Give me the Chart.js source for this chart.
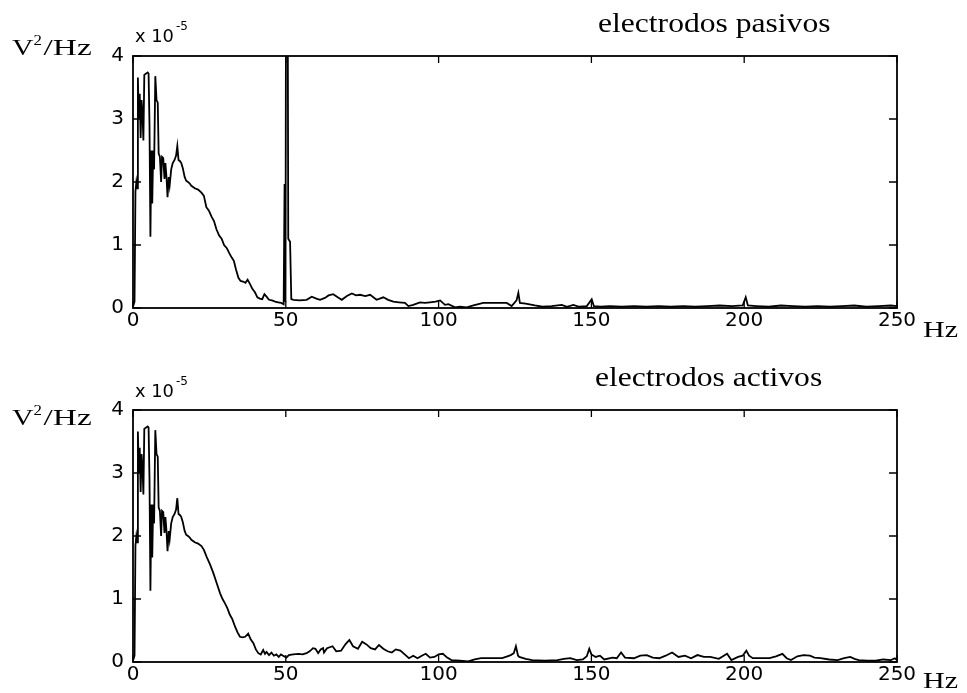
<!DOCTYPE html>
<html>
<head>
<meta charset="utf-8">
<script src="https://cdn.jsdelivr.net/npm/chart.js@4.4.1/dist/chart.umd.min.js"></script>
<style>
  html, body { margin: 0; padding: 0; background: #fff; }
  #wrap { position: relative; width: 967px; height: 693px; }
  canvas { position: absolute; left: 0; }
  #c1 { top: 0; }
  #c2 { top: 350px; }
</style>
</head>
<body>
<div id="wrap">
  <canvas id="c1" width="967" height="350"></canvas>
  <canvas id="c2" width="967" height="343"></canvas>
</div>
<script>
// densidad espectral de potencia, unidades de 1e-5 V^2/Hz
const xTicks = [0, 50, 100, 150, 200, 250];
const yTicks = [0, 1, 2, 3, 4];

// electrodos pasivos
const freqPasivos = [
  0, 0.5, 0.8, 1.1, 1.4, 1.6, 1.9, 2.2, 2.5, 2.8, 3.1, 3.4, 3.7, 4.2, 4.8, 5.1, 5.4, 5.7, 6.0, 6.3,
  6.6, 6.9, 7.3, 7.7, 8.1, 8.4, 8.8, 9.2, 9.5, 9.9, 10.3, 10.6, 11.0, 11.3, 11.7, 12.0, 12.5, 13.0, 13.6, 14.1,
  14.5, 14.9, 15.4, 15.8, 16.3, 16.9, 17.4, 18.0, 18.5, 19.1, 20.2, 21.3, 22.4, 23.2, 24.0, 24.8, 25.7, 26.5, 27.3, 28.2,
  29.0, 29.8, 30.7, 31.5, 32.3, 33.0, 33.7, 34.5, 35.2, 36.0, 36.8, 37.5, 38.3, 39.1, 39.9, 40.7, 41.5, 42.3, 43.0, 43.7,
  44.5, 45.5, 46.5, 47.5, 48.5, 49.3, 49.6, 49.9, 50.3, 50.8, 51.4, 51.8, 52.5, 54.5, 56.8, 58.5, 60.0, 61.2, 62.8, 64.0,
  65.5, 67.0, 68.3, 70.0, 71.6, 73.0, 74.3, 76.0, 77.6, 79.7, 81.9, 83.5, 85.2, 87.0, 89.0, 90.1, 91.7, 93.9, 95.5, 97.2,
  99.0, 100.5, 102.1, 103.2, 105.4, 107.0, 109.2, 111.4, 114.6, 118.0, 122.3, 123.9, 125.5, 126.1, 126.6, 128.5, 131.5, 134.0, 137.0, 140.3,
  142.0, 144.1, 146.0, 148.5, 150.1, 150.8, 153, 156, 160, 164, 168, 172, 176, 180, 184, 188, 192, 196, 199.5, 200.5,
  201.2, 204, 208, 212, 216, 220, 224, 228, 232, 236, 240, 244, 248, 250
];
const valPasivos = [
  0.02, 0.1, 1.85, 2.0, 1.9, 3.66, 3.0, 3.4, 2.7, 3.3, 3.1, 2.66, 3.7, 3.72, 3.74, 3.72, 2.9, 1.13, 2.5, 1.66,
  2.5, 2.2, 3.68, 3.3, 3.26, 2.45, 2.4, 2.0, 2.4, 2.38, 2.05, 2.3, 2.05, 1.76, 2.08, 1.95, 2.2, 2.3, 2.35, 2.42,
  2.57, 2.35, 2.33, 2.3, 2.22, 2.08, 2.02, 2.0, 1.98, 1.94, 1.9, 1.88, 1.83, 1.78, 1.6, 1.55, 1.45, 1.38, 1.25, 1.15,
  1.1, 1.0, 0.95, 0.87, 0.8, 0.75, 0.61, 0.48, 0.43, 0.42, 0.40, 0.45, 0.38, 0.3, 0.25, 0.17, 0.15, 0.14, 0.22, 0.18,
  0.13, 0.12, 0.1, 0.09, 0.08, 0.06, 1.97, 0.1, 12, 1.1, 1.05, 0.14, 0.13, 0.12, 0.13, 0.18, 0.15, 0.13, 0.16, 0.2,
  0.22, 0.17, 0.13, 0.19, 0.23, 0.2, 0.21, 0.19, 0.21, 0.13, 0.17, 0.13, 0.1, 0.09, 0.08, 0.03, 0.05, 0.09, 0.08, 0.09,
  0.1, 0.12, 0.05, 0.06, 0.01, 0.02, 0.01, 0.04, 0.08, 0.08, 0.08, 0.03, 0.12, 0.24, 0.08, 0.07, 0.04, 0.02, 0.03, 0.05,
  0.02, 0.05, 0.02, 0.03, 0.14, 0.03, 0.02, 0.03, 0.02, 0.03, 0.02, 0.03, 0.02, 0.03, 0.02, 0.03, 0.04, 0.03, 0.04, 0.17,
  0.04, 0.03, 0.02, 0.04, 0.03, 0.02, 0.03, 0.02, 0.03, 0.04, 0.02, 0.03, 0.04, 0.03
];

// electrodos activos
const freqActivos = [
  0, 0.5, 0.8, 1.1, 1.4, 1.6, 1.9, 2.2, 2.5, 2.8, 3.1, 3.4, 3.7, 4.2, 4.8, 5.1, 5.4, 5.7, 6.0, 6.3,
  6.6, 6.9, 7.3, 7.7, 8.1, 8.4, 8.8, 9.2, 9.5, 9.9, 10.3, 10.6, 11.0, 11.3, 11.7, 12.0, 12.5, 13.0, 13.6, 14.1,
  14.5, 14.9, 15.4, 15.8, 16.3, 16.9, 17.4, 18.0, 18.5, 19.1, 20.2, 21.3, 22.4, 23.2, 24.1, 25.2, 26.3, 27.4, 28.5, 29.3,
  30.1, 30.9, 31.7, 32.5, 33.4, 34.2, 35.0, 35.8, 36.7, 37.7, 38.5, 39.4, 40.2, 41.0, 41.8, 42.6, 43.2, 43.7, 44.5, 45.3,
  46.1, 46.9, 47.7, 48.4, 49.1, 50.2, 51.0, 52.4, 54.2, 55.5, 56.8, 57.8, 58.9, 59.7, 60.6, 61.4, 62.2, 62.5, 63.5, 65.3,
  66.5, 68.1, 69.5, 70.8, 72.0, 73.6, 75.0, 76.4, 77.8, 79.2, 80.5, 81.9, 83.3, 84.7, 86.0, 87.5, 88.9, 90.3, 91.7, 93.1,
  94.5, 95.8, 97.2, 98.6, 100.0, 101.4, 102.8, 104.2, 107.0, 109.7, 111.8, 113.9, 117.0, 120.8, 122.5, 123.6, 124.6, 125.3, 126.0, 126.4,
  128.5, 130.6, 134.7, 138.9, 141.0, 143.1, 145.2, 147.2, 148.5, 149.3, 150.0, 151.4, 152.8, 154.2, 156.9, 158.3, 159.7, 161.0, 163.9, 166.0,
  168.1, 170.1, 172.2, 174.3, 176.4, 178.5, 180.6, 182.6, 184.7, 186.8, 188.9, 191.7, 194.4, 195.8, 198.0, 199.5, 200.7, 201.6, 202.8, 205.5,
  208.3, 210.4, 212.5, 213.9, 215.3, 217.4, 219.4, 221.5, 223.0, 225.0, 227.8, 230.6, 232.7, 234.7, 236.1, 237.5, 240.3, 243.0, 245.5, 248.0,
  249.3, 250
];
const valActivos = [
  0.02, 0.1, 1.85, 2.0, 1.9, 3.66, 3.0, 3.4, 2.7, 3.3, 3.1, 2.66, 3.7, 3.72, 3.74, 3.72, 2.9, 1.13, 2.5, 1.66,
  2.5, 2.2, 3.68, 3.3, 3.26, 2.45, 2.4, 2.0, 2.4, 2.38, 2.05, 2.3, 2.05, 1.76, 2.08, 1.95, 2.2, 2.3, 2.35, 2.42,
  2.6, 2.35, 2.33, 2.3, 2.22, 2.08, 2.02, 2.0, 1.98, 1.94, 1.9, 1.88, 1.84, 1.78, 1.67, 1.55, 1.41, 1.25, 1.09, 1.0,
  0.93, 0.85, 0.75, 0.68, 0.56, 0.47, 0.40, 0.39, 0.40, 0.45, 0.36, 0.30, 0.2, 0.14, 0.12, 0.19, 0.13, 0.16, 0.11, 0.15,
  0.1, 0.12, 0.08, 0.12, 0.1, 0.07, 0.11, 0.12, 0.13, 0.12, 0.14, 0.17, 0.22, 0.21, 0.14, 0.2, 0.22, 0.15, 0.22, 0.25,
  0.17, 0.18, 0.28, 0.35, 0.25, 0.21, 0.32, 0.28, 0.22, 0.2, 0.27, 0.21, 0.17, 0.15, 0.2, 0.18, 0.12, 0.06, 0.1, 0.06,
  0.1, 0.13, 0.07, 0.08, 0.12, 0.13, 0.07, 0.03, 0.02, 0.01, 0.04, 0.06, 0.06, 0.06, 0.09, 0.11, 0.14, 0.25, 0.1, 0.08,
  0.05, 0.03, 0.02, 0.03, 0.05, 0.06, 0.03, 0.04, 0.09, 0.21, 0.12, 0.08, 0.1, 0.04, 0.07, 0.06, 0.15, 0.07, 0.06, 0.1,
  0.11, 0.07, 0.06, 0.1, 0.15, 0.08, 0.1, 0.06, 0.11, 0.08, 0.08, 0.05, 0.13, 0.03, 0.08, 0.1, 0.18, 0.1, 0.06, 0.06,
  0.06, 0.09, 0.13, 0.06, 0.03, 0.09, 0.11, 0.1, 0.07, 0.06, 0.04, 0.03, 0.06, 0.08, 0.05, 0.03, 0.02, 0.02, 0.04, 0.03,
  0.06, 0.03
];

const numFont = '"DejaVu Sans", sans-serif';
const serifFont = '"Liberation Serif", "Times New Roman", serif';

// texto estirado en horizontal
function wideText(ctx, text, x, y, font, sx) {
  ctx.save();
  ctx.font = font;
  ctx.translate(x, y);
  ctx.scale(sx, 1);
  ctx.fillText(text, 0, 0);
  const w = ctx.measureText(text).width * sx;
  ctx.restore();
  return w;
}

// marco, marcas hacia dentro y rótulos al estilo MATLAB
function framePlugin(title, titleX, titleY, unitY, expY, hzDy) {
  return {
    id: 'matlabFrame',
    afterDraw(chart) {
      const ctx = chart.ctx;
      const a = chart.chartArea;
      const xs = chart.scales.x, ys = chart.scales.y;
      ctx.save();
      ctx.strokeStyle = '#000';
      ctx.lineWidth = 1.8;
      ctx.strokeRect(a.left, a.top, a.right - a.left, a.bottom - a.top);
      ctx.lineWidth = 1.3;
      ctx.beginPath();
      xTicks.forEach(v => {
        const px = xs.getPixelForValue(v);
        ctx.moveTo(px, a.bottom); ctx.lineTo(px, a.bottom - 7);
        ctx.moveTo(px, a.top); ctx.lineTo(px, a.top + 7);
      });
      yTicks.forEach(v => {
        const py = ys.getPixelForValue(v);
        ctx.moveTo(a.left, py); ctx.lineTo(a.left + 8, py);
        ctx.moveTo(a.right, py); ctx.lineTo(a.right - 8, py);
      });
      ctx.stroke();

      ctx.fillStyle = '#000';
      ctx.textBaseline = 'alphabetic';
      // factor de escala del eje y
      let w = wideText(ctx, 'x 10', 135, expY, '17px ' + numFont, 1.05);
      wideText(ctx, '-5', 135 + w + 2, expY - 12, '12px ' + numFont, 1.0);
      // unidades
      let ux = 12;
      ux += wideText(ctx, 'V', ux, unitY, '23px ' + serifFont, 1.3);
      wideText(ctx, '2', ux, unitY - 10, '14px ' + serifFont, 1.2);
      ux += 10;
      wideText(ctx, '/Hz', ux, unitY, '23px ' + serifFont, 1.45);
      // título
      wideText(ctx, title, titleX, titleY, '27px ' + serifFont, 1.17);
      // Hz junto al 250
      const hx = xs.getPixelForValue(250) + 26;
      wideText(ctx, 'Hz', hx, a.bottom + hzDy, '24px ' + serifFont, 1.25);
      ctx.restore();
    }
  };
}

function makeChart(id, freqs, vals, xHeight, padTop, plugin) {
  const points = freqs.map((f, i) => ({ x: f, y: vals[i] }));
  return new Chart(document.getElementById(id), {
    type: 'line',
    data: {
      datasets: [{
        data: points,
        borderColor: '#000',
        borderWidth: 1.8,
        pointRadius: 0,
        tension: 0,
        fill: false
      }]
    },
    options: {
      responsive: false,
      animation: false,
      layout: { padding: { top: padTop, right: 70, left: 0, bottom: 0 } },
      plugins: { legend: { display: false }, tooltip: { enabled: false } },
      scales: {
        x: {
          type: 'linear', min: 0, max: 250,
          afterFit: s => { s.height = xHeight; },
          afterBuildTicks: s => { s.ticks = xTicks.map(v => ({ value: v })); },
          grid: { display: false, drawTicks: false },
          border: { display: false },
          ticks: { color: '#000', padding: 1, maxRotation: 0, autoSkip: false,
                   font: { family: numFont, size: 20 } }
        },
        y: {
          min: 0, max: 4,
          afterFit: s => { s.width = 133; },
          afterBuildTicks: s => { s.ticks = yTicks.map(v => ({ value: v })); },
          grid: { display: false, drawTicks: false },
          border: { display: false },
          ticks: { color: '#000', padding: 9, font: { family: numFont, size: 20 } }
        }
      }
    },
    plugins: [plugin]
  });
}

makeChart('c1', freqPasivos, valPasivos, 42, 56,
  framePlugin('electrodos pasivos', 598, 32, 55, 42, 29));
makeChart('c2', freqActivos, valActivos, 31, 60,
  framePlugin('electrodos activos', 595, 36, 75, 47, 26));
</script>
</body>
</html>
